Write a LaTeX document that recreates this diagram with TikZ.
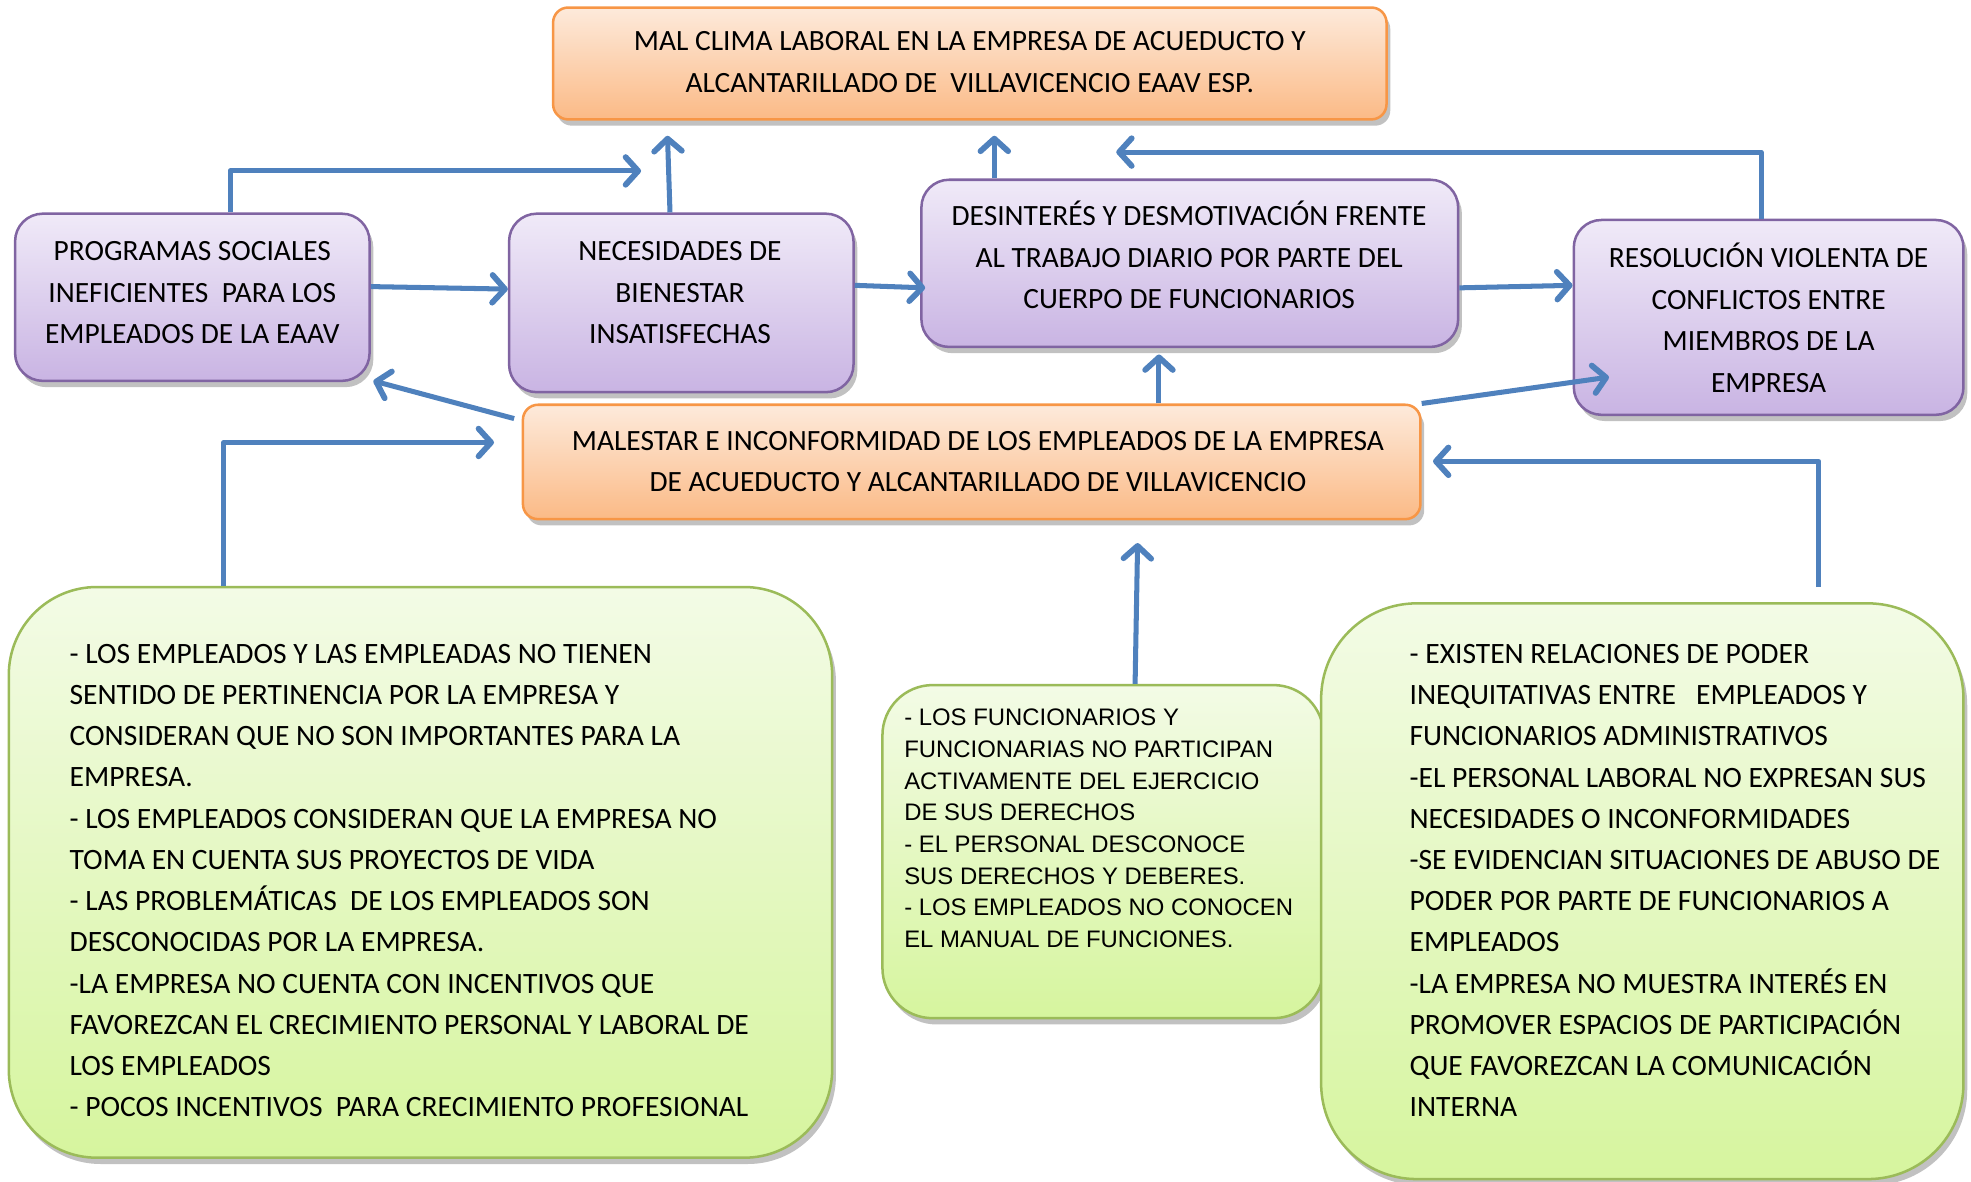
\documentclass[tikz,border=0pt]{standalone}
\usepackage{fontspec}
\setmainfont{Carlito}
\newfontfamily\arialf{Liberation Sans}
\usetikzlibrary{arrows.meta,shadows,fit,calc}
\definecolor{arrowblue}{HTML}{4F81BD}
\definecolor{orgtop}{HTML}{FDEADB}
\definecolor{orgbot}{HTML}{FBBA86}
\definecolor{orgline}{HTML}{F79646}
\definecolor{purtop}{HTML}{F0EAF8}
\definecolor{purbot}{HTML}{C9B4E3}
\definecolor{purline}{HTML}{8064A2}
\definecolor{grntop}{HTML}{F3FBE6}
\definecolor{grnbot}{HTML}{D6F59E}
\definecolor{grnline}{HTML}{9BBB59}
\tikzset{
  boxbase/.style={inner sep=0pt, line width=1pt,
    drop shadow={shadow xshift=1.5pt, shadow yshift=-2.5pt, opacity=0.35, fill=black!70}},
  orangebox/.style={boxbase, draw=orgline, top color=orgtop, bottom color=orgbot, rounded corners=6pt},
  purplebox/.style={boxbase, draw=purline, top color=purtop, bottom color=purbot, rounded corners=11pt},
  greenbox/.style={boxbase, draw=grnline, top color=grntop, bottom color=grnbot},
  ctext/.style={align=center, inner sep=0pt, font=\fontsize{11.7}{16.5}\selectfont},
  ltext/.style={align=left, anchor=west, inner sep=0pt, font=\fontsize{11.75}{16.4}\selectfont},
  arr/.style={draw=arrowblue, line width=2pt, line join=round,
    -{Straight Barb[length=5pt,width=11pt,line width=2.3pt,round]}},
}
\begin{document}
\begin{tikzpicture}[x=0.5pt,y=-0.5pt]
\useasboundingbox (0,0) rectangle (1568,940);
% corner coordinates
\coordinate (Ta) at (440,6);     \coordinate (Tb) at (1103,95);
\coordinate (P1a) at (12,170);   \coordinate (P1b) at (294,303);
\coordinate (P2a) at (405,170);  \coordinate (P2b) at (679,312);
\coordinate (P3a) at (733,143);  \coordinate (P3b) at (1160,276);
\coordinate (P4a) at (1252,175); \coordinate (P4b) at (1562,330);
\coordinate (Ma) at (416,322);   \coordinate (Mb) at (1130,413);
\coordinate (G1a) at (7,467);    \coordinate (G1b) at (662,921);
\coordinate (G2a) at (702,545);  \coordinate (G2b) at (1053,810);
\coordinate (G3a) at (1051,480); \coordinate (G3b) at (1562,938);
% boxes
\node[orangebox, fit=(Ta)(Tb)] (T) {};
\node[purplebox, fit=(P1a)(P1b)] (P1) {};
\node[purplebox, fit=(P2a)(P2b)] (P2) {};
\node[purplebox, fit=(P3a)(P3b)] (P3) {};
\node[purplebox, fit=(P4a)(P4b)] (P4) {};
\node[orangebox, fit=(Ma)(Mb)] (M) {};
\node[greenbox, fit=(G1a)(G1b), rounded corners=35pt] (G1) {};
\node[greenbox, fit=(G2a)(G2b), rounded corners=20pt] (G2) {};
\node[greenbox, fit=(G3a)(G3b), rounded corners=38pt] (G3) {};
% texts
\node[ctext] (tT) at (771.5,49.5) {MAL CLIMA LABORAL EN LA EMPRESA DE ACUEDUCTO Y\\ALCANTARILLADO DE\ \ VILLAVICENCIO EAAV ESP.};
\node[ctext] (tP1) at (153,233) {PROGRAMAS SOCIALES\\INEFICIENTES\ \ PARA LOS\\EMPLEADOS DE LA EAAV};
\node[ctext] (tP2) at (541,233) {NECESIDADES DE\\BIENESTAR\\INSATISFECHAS};
\node[ctext] (tP3) at (946,203) {DESINTERÉS Y DESMOTIVACIÓN FRENTE\\AL TRABAJO DIARIO POR PARTE DEL\\CUERPO DE FUNCIONARIOS};
\node[ctext] (tP4) at (1407,253) {RESOLUCIÓN VIOLENTA DE\\CONFLICTOS ENTRE\\MIEMBROS DE LA\\EMPRESA};
\node[ctext] (tM) at (778,367) {MALESTAR E INCONFORMIDAD DE LOS EMPLEADOS DE LA EMPRESA\\DE ACUEDUCTO Y ALCANTARILLADO DE VILLAVICENCIO};
\node[ltext] (tG1) at (55,700.5) {- LOS EMPLEADOS Y LAS EMPLEADAS NO TIENEN\\SENTIDO DE PERTINENCIA POR LA EMPRESA Y\\CONSIDERAN QUE NO SON IMPORTANTES PARA LA\\EMPRESA.\\- LOS EMPLEADOS CONSIDERAN QUE LA EMPRESA NO\\TOMA EN CUENTA SUS PROYECTOS DE VIDA\\- LAS PROBLEMÁTICAS\ \ DE LOS EMPLEADOS SON\\DESCONOCIDAS POR LA EMPRESA.\\-LA EMPRESA NO CUENTA CON INCENTIVOS QUE\\FAVOREZCAN EL CRECIMIENTO PERSONAL Y LABORAL DE\\LOS EMPLEADOS\\- POCOS INCENTIVOS\ \ PARA CRECIMIENTO PROFESIONAL};
\node[ltext, font=\arialf\fontsize{9.5}{12.6}\selectfont] (tG2) at (719,659) {- LOS FUNCIONARIOS Y\\FUNCIONARIAS NO PARTICIPAN\\ACTIVAMENTE DEL EJERCICIO\\DE SUS DERECHOS\\- EL PERSONAL DESCONOCE\\SUS DERECHOS Y DEBERES.\\- LOS EMPLEADOS NO CONOCEN\\EL MANUAL DE FUNCIONES.};
\node[ltext] (tG3) at (1121,700.5) {- EXISTEN RELACIONES DE PODER\\INEQUITATIVAS ENTRE\ \ \ EMPLEADOS Y\\FUNCIONARIOS ADMINISTRATIVOS\\-EL PERSONAL LABORAL NO EXPRESAN SUS\\NECESIDADES O INCONFORMIDADES\\-SE EVIDENCIAN SITUACIONES DE ABUSO DE\\PODER POR PARTE DE FUNCIONARIOS A\\EMPLEADOS\\-LA EMPRESA NO MUESTRA INTERÉS EN\\PROMOVER ESPACIOS DE PARTICIPACIÓN\\QUE FAVOREZCAN LA COMUNICACIÓN\\INTERNA};
% free ends
\coordinate (e1) at (510,136);
\coordinate (e2) at (531,108);
\coordinate (e3) at (791,108);
\coordinate (e4) at (888,121);
\coordinate (e8) at (922,282);
\coordinate (s9) at (409,333);
\coordinate (e10) at (1280,300);
\coordinate (e11) at (393,352);
\coordinate (e12) at (905,432);
\coordinate (s13) at (1447,467);
\coordinate (e13) at (1140,367);
% connectors
\draw[arr] (P1.north -| 183,0) |- (e1);
\draw[arr] (P2.north -| 533,0) -- (e2);
\draw[arr] (P3.north -| 791,0) -- (e3);
\draw[arr] (P4.north -| 1401,0) |- (e4);
\draw[arr] (P1.east |- 0,228) -- (P2.west |- 0,230);
\draw[arr] (P2.east |- 0,227) -- ($(P3.west |- 0,229)+(4,0)$);
\draw[arr] (P3.east |- 0,229) -- (P4.west |- 0,227);
\draw[arr] (M.north -| 922,0) -- (e8);
\draw[arr] (s9) -- ($(P1.south east)+(2,-1)$);
\draw[arr] (M.north east) -- (e10);
\draw[arr] (G1.north -| 178,0) |- (e11);
\draw[arr] (G2.north -| 903,0) -- (e12);
\draw[arr] (s13) |- (e13);
\end{tikzpicture}
\end{document}
